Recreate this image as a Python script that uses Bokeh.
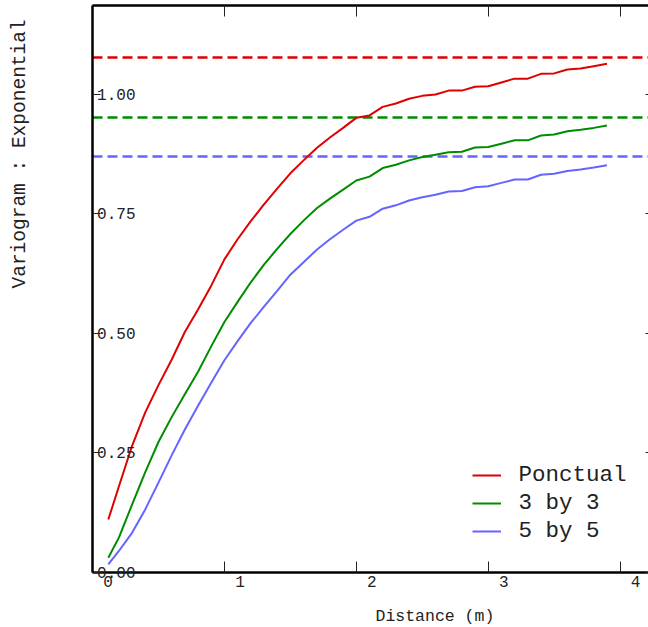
from bokeh.plotting import figure
from bokeh.models import Range1d, FixedTicker, LinearAxis, Legend, LegendItem, Title
from bokeh.embed import file_html
from bokeh.resources import INLINE

# ---------------- data ----------------
lags = [0.12, 0.2, 0.3, 0.4, 0.5, 0.6, 0.7, 0.8, 0.9, 1.0,
        1.1, 1.2, 1.3, 1.4, 1.5, 1.6, 1.7, 1.8, 1.9, 2.0,
        2.1, 2.2, 2.3, 2.4, 2.5, 2.6, 2.7, 2.8, 2.9, 3.0,
        3.1, 3.2, 3.3, 3.4, 3.5, 3.6, 3.7, 3.8, 3.9]
ponctual = [0.111, 0.180, 0.265, 0.335, 0.392, 0.445, 0.503, 0.550, 0.600, 0.655,
            0.697, 0.735, 0.770, 0.803, 0.835, 0.862, 0.888, 0.910, 0.930, 0.951,
            0.956, 0.974, 0.981, 0.991, 0.997, 1.000, 1.008, 1.008, 1.016, 1.017,
            1.025, 1.033, 1.033, 1.043, 1.044, 1.052, 1.054, 1.059, 1.064]
by3 = [0.031, 0.073, 0.142, 0.210, 0.273, 0.325, 0.373, 0.420, 0.473, 0.524,
       0.566, 0.607, 0.644, 0.677, 0.708, 0.736, 0.762, 0.782, 0.801, 0.820,
       0.828, 0.846, 0.853, 0.862, 0.869, 0.874, 0.879, 0.880, 0.889, 0.890,
       0.897, 0.904, 0.904, 0.914, 0.916, 0.923, 0.926, 0.930, 0.935]
by5 = [0.017, 0.045, 0.083, 0.132, 0.188, 0.245, 0.299, 0.349, 0.397, 0.444,
       0.484, 0.522, 0.556, 0.589, 0.623, 0.649, 0.675, 0.697, 0.717, 0.736,
       0.744, 0.761, 0.768, 0.778, 0.785, 0.790, 0.797, 0.798, 0.806, 0.808,
       0.815, 0.822, 0.822, 0.832, 0.834, 0.840, 0.843, 0.847, 0.852]
sills = [1.078, 0.951, 0.870]
series_names = ["Ponctual", "3 by 3", "5 by 5"]
colors = ["#e00000", "#008c00", "#6464ff"]
x_ticks = [0, 1, 2, 3, 4]
x_tick_labels = ["0", "1", "2", "3", "4"]
y_ticks = [0.0, 0.25, 0.5, 0.75, 1.0]
y_tick_labels = ["0.00", "0.25", "0.50", "0.75", "1.00"]
x_title = "Distance (m)"
y_title = "Variogram : Exponential"

FONT = "Liberation Mono"
TXT = "#222222"
X_END = 4.215
LABEL_SHIFT = 0.1177   # x tick labels sit ~15 px right of their ticks

p = figure(width=648, height=627, output_backend="svg", toolbar_location=None,
           x_range=Range1d(0, X_END), y_range=Range1d(0, 1.186),
           x_axis_location=None, y_axis_location=None,
           min_border_left=92, min_border_right=0, min_border_top=5, min_border_bottom=55)
p.outline_line_color = None
p.xgrid.visible = False
p.ygrid.visible = False
p.extra_x_ranges = {"xlab": Range1d(-LABEL_SHIFT, X_END - LABEL_SHIFT)}


def bare_axis(ticks, tick_in, line=True, tick_out=0, tick_color="#222222"):
    return LinearAxis(ticker=FixedTicker(ticks=ticks),
                      major_tick_in=tick_in, major_tick_out=tick_out,
                      minor_tick_line_color=None,
                      major_label_overrides={t: "" for t in ticks},
                      major_label_standoff=0,
                      major_label_text_font_size="1px",
                      axis_line_width=2.5,
                      axis_line_color="black" if line else None,
                      major_tick_line_color=tick_color, major_tick_line_width=1)


# frame-edge axes (ticks pointing inward)
p.add_layout(bare_axis(x_ticks, 11), "below")
p.add_layout(bare_axis(x_ticks, 11), "above")
p.add_layout(bare_axis(y_ticks, 3, line=False), "right")

# x tick labels (shifted label axis)
xlab = LinearAxis(x_range_name="xlab", ticker=FixedTicker(ticks=x_ticks),
                  major_label_overrides=dict(zip(x_ticks, x_tick_labels)),
                  major_tick_line_color=None, minor_tick_line_color=None,
                  axis_line_color=None, major_tick_in=0, major_tick_out=0,
                  major_label_standoff=3,
                  major_label_text_font=FONT, major_label_text_font_size="16px",
                  major_label_text_color=TXT)
p.add_layout(xlab, "below")

# left axis: tick labels drawn inside the frame
yax = LinearAxis(ticker=FixedTicker(ticks=y_ticks),
                 major_label_overrides=dict(zip(y_ticks, y_tick_labels)),
                 major_tick_in=8, major_tick_out=0, minor_tick_line_color=None,
                 major_tick_line_color="#222222", major_tick_line_width=1,
                 axis_line_width=2.5, axis_line_color="black",
                 major_label_standoff=-43,
                 major_label_text_font=FONT, major_label_text_font_size="16px",
                 major_label_text_color=TXT)
p.add_layout(yax, "left")

# invisible spacers that push the titles outward
p.add_layout(bare_axis([0.5], 0, line=False, tick_out=62, tick_color=None), "left")
p.add_layout(bare_axis([2], 0, line=False, tick_out=15, tick_color=None), "below")

# axis titles: start at the middle of the frame
p.add_layout(Title(text=x_title, align="left", offset=283, vertical_align="bottom",
                   standoff=0, text_font=FONT, text_font_size="16.5px",
                   text_font_style="normal", text_color=TXT), "below")
p.add_layout(Title(text=y_title, align="left", offset=284, vertical_align="bottom",
                   standoff=0, text_font=FONT, text_font_size="19.5px",
                   text_font_style="normal", text_color=TXT), "left")

# sills (dashed)
p.hspan(y=sills, line_color=colors, line_width=2.5, line_dash="10 5")

# curves
renderers = []
for vals, c in zip([ponctual, by3, by5], colors):
    renderers.append(p.line(lags, vals, line_color=c, line_width=2))

legend = Legend(items=[LegendItem(label=n, renderers=[r]) for n, r in zip(series_names, renderers)],
                location=(379.5, 28.5), glyph_width=29, glyph_height=22, label_height=22,
                spacing=2, label_standoff=18, padding=0, margin=0,
                border_line_color=None, background_fill_alpha=0,
                label_text_font=FONT, label_text_font_size="22.5px", label_text_color=TXT)
p.add_layout(legend)

open("out.html", "w").write(file_html(p, INLINE))
